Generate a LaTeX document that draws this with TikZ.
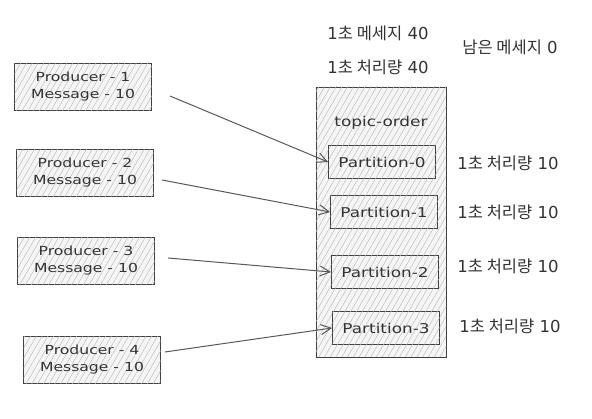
\documentclass[tikz,border=0pt]{standalone}
\usepackage{fontspec}
\setmainfont{DejaVu Sans}
\newfontfamily\kr{Noto Sans CJK KR}
\newfontfamily\hand[FakeStretch=1.25]{DejaVu Sans}
\usetikzlibrary{arrows.meta,patterns.meta}
\begin{document}
\begin{tikzpicture}[x=1pt,y=-1pt,
  hatch/.style={draw=black!75, line width=0.9pt, fill=gray!8,
    postaction={pattern={Lines[angle=60,distance=5pt,line width=0.45pt]}, pattern color=gray!55}},
  prod/.style={hatch, minimum width=137pt, minimum height=47pt, align=center, font=\hand\fontsize{12.5}{17}\selectfont, text=black!80},
  part/.style={hatch, minimum width=107pt, minimum height=33pt, font=\hand\fontsize{13.5}{15}\selectfont, text=black!80},
  lbl/.style={font=\fontsize{16.5}{18}\selectfont, text=black!80},
  conn/.style={draw=gray!70!black, line width=1pt, -{Straight Barb[length=10pt,width=10pt]}}]
\useasboundingbox (0,0) rectangle (592,419);
% topic box
\node[hatch, minimum width=130pt, minimum height=270pt] (topic) at (381,222) {};
\node[font=\hand\fontsize{13.5}{15}\selectfont, text=black!80] (tname) at (381,123) {topic-order};
% partitions
\node[part] (p0) at (382,162) {Partition-0};
\node[part] (p1) at (384,212) {Partition-1};
\node[part] (p2) at (385,272) {Partition-2};
\node[part] (p3) at (386,328) {Partition-3};
% producers
\node[prod] (r1) at (83,87) {Producer - 1\\Message - 10};
\node[prod] (r2) at (85,173) {Producer - 2\\Message - 10};
\node[prod] (r3) at (86,261) {Producer - 3\\Message - 10};
\node[prod] (r4) at (92,360) {Producer - 4\\Message - 10};
% labels
\node[lbl] (m40) at (378,33) {1{\kr 초 메세지} 40};
\node[lbl] (t40) at (378,67) {1{\kr 초 처리량} 40};
\node[lbl] (rem) at (510,47) {{\kr 남은 메세지} 0};
\node[lbl] (t0) at (508,163) {1{\kr 초 처리량} 10};
\node[lbl] (t1) at (508,212) {1{\kr 초 처리량} 10};
\node[lbl] (t2) at (508,266) {1{\kr 초 처리량} 10};
\node[lbl] (t3) at (510,326) {1{\kr 초 처리량} 10};
% connectors
\coordinate (a1) at (170,96);
\coordinate (a2) at (162,180);
\coordinate (a3) at (168,258);
\coordinate (a4) at (165,352);
\draw[conn] (a1) -- (p0.west);
\draw[conn] (a2) -- (p1.west);
\draw[conn] (a3) -- (p2.west);
\draw[conn] (a4) -- (p3.west);
\end{tikzpicture}
\end{document}
